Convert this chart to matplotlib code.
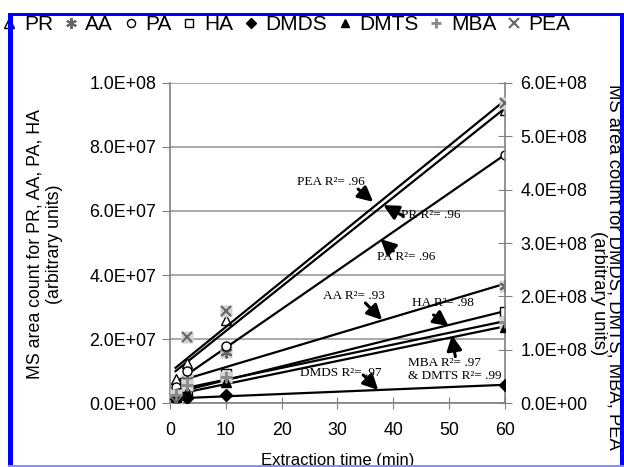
import matplotlib
matplotlib.use('Agg')
import matplotlib.pyplot as plt
import numpy as np
from matplotlib.ticker import FuncFormatter, MultipleLocator
from matplotlib.patches import Rectangle

plt.rcParams['font.family'] = ['Liberation Sans', 'DejaVu Sans']

# extraction times (min)
times = np.array([1, 3, 10, 60])

# left axis: MS area count for PR, AA, PA, HA
pr = np.array([7.5e6, 1.25e7, 2.6e7, 9.15e7])
aa = np.array([3.0e6, 7.3e6, 1.61e7, 3.66e7])
pa = np.array([5.0e6, 1.0e7, 1.8e7, 7.74e7])
ha = np.array([2.0e6, 4.0e6, 9.2e6, 2.85e7])

# right axis: MS area count for DMDS, DMTS, MBA, PEA
dmds = np.array([8.0e6, 9.7e6, 1.6e7, 3.46e7])
dmts = np.array([1.2e7, 2.2e7, 4.1e7, 1.435e8])
mba = np.array([1.5e7, 3.5e7, 5.0e7, 1.53e8])
pea = np.array([3.4e6, 1.24e8, 1.72e8, 5.61e8])

fig = plt.figure(figsize=(6.24, 4.67), dpi=100)
ax = fig.add_axes([0.2724, 0.136, 0.5369, 0.6873])
ax2 = ax.twinx()


def trend(a, y):
    # linear trendline over the data range, like the spreadsheet did
    c = np.polyfit(times, y, 1)
    xs = np.array([times[0], times[-1]])
    a.plot(xs, np.polyval(c, xs), color='black', lw=1.6, zorder=2)


for y in [pr, aa, pa, ha]:
    trend(ax, y)
for y in [dmds, dmts, mba, pea]:
    trend(ax2, y)

box = dict(ls='none', marker='s', ms=8, color='#d2d2d2', mec='none', zorder=3)
ax.plot(times, aa, **box)
ax2.plot(times, mba, **box)
ax2.plot(times, pea, **box)

h_pr, = ax.plot(times, pr, ls='none', marker='^', ms=7.5, mfc='white', mec='black', mew=1, zorder=4)
h_aa, = ax.plot(times, aa, ls='none', marker=(6, 2, 0), ms=8.5, color='#666666', mew=1.5, zorder=4)
h_pa, = ax.plot(times, pa, ls='none', marker='o', ms=6.5, mfc='white', mec='black', mew=1, zorder=4)
h_ha, = ax.plot(times, ha, ls='none', marker='s', ms=6.5, mfc='white', mec='black', mew=1, zorder=4)
h_dmds, = ax2.plot(times, dmds, ls='none', marker='D', ms=6, color='black', zorder=4)
h_dmts, = ax2.plot(times, dmts, ls='none', marker='^', ms=7, color='black', zorder=4)
h_mba, = ax2.plot(times, mba, ls='none', marker='+', ms=8.5, color='#888888', mew=2, zorder=4)
h_pea, = ax2.plot(times, pea, ls='none', marker='x', ms=7.5, color='#666666', mew=1.5, zorder=4)

ax.set_xlim(0, 60)
ax.set_ylim(0, 1e8)
ax2.set_ylim(0, 6e8)
ax.xaxis.set_major_locator(MultipleLocator(10))
ax.yaxis.set_major_locator(MultipleLocator(2e7))
ax2.yaxis.set_major_locator(MultipleLocator(1e8))
sci = FuncFormatter(lambda v, p: f'{v:.1E}')
ax.yaxis.set_major_formatter(sci)
ax2.yaxis.set_major_formatter(sci)

ax.set_axisbelow(True)
ax.yaxis.grid(True, color='#9a9a9a', lw=1.2)

for s in ['top', 'right']:
    ax.spines[s].set_visible(False)
for s in ['top', 'left', 'bottom']:
    ax2.spines[s].set_visible(False)
for sp in [ax.spines['left'], ax.spines['bottom'], ax2.spines['right']]:
    sp.set_color('#808080')
    sp.set_linewidth(1.2)

ax.tick_params(axis='y', direction='out', length=6, color='#808080', labelsize=12.8, pad=4)
ax.tick_params(axis='x', direction='inout', length=8, color='#808080', labelsize=12.8, pad=9)
ax2.tick_params(axis='y', direction='inout', length=10, color='#808080', labelsize=12.8, pad=6)

ax.set_xlabel('Extraction time (min)', fontsize=12)
ax.xaxis.set_label_coords(0.5, -0.155)
fig.text(45 / 624, 1 - 244 / 467, 'MS area count for PR, AA, PA, HA\n(arbitrary units)',
         rotation=90, ha='center', va='center', multialignment='center', fontsize=12.8)
fig.text(614 / 624, 1 - 267 / 467, 'MS area count for DMDS, DMTS, MBA, PEA',
         rotation=270, ha='center', va='center', fontsize=13.3)
fig.text(598 / 624, 1 - 293 / 467, '(arbitrary units)',
         rotation=270, ha='center', va='center', fontsize=13.3)

# R squared notes with arrows (left axis data coordinates)
serif = dict(family='Liberation Serif', fontsize=9.5, va='center', ha='left')
notes = [
    ('PEA R²= .96', (22.8, 6.9e7), (33.7, 6.68e7), (36.4, 6.28e7)),
    ('PR R²= .96', (41.3, 5.87e7), (41.8, 5.84e7), (38.2, 6.18e7)),
    ('PA R²= .96', (37.1, 4.56e7), (40.0, 4.75e7), (37.7, 5.12e7)),
    ('AA R²= .93', (27.4, 3.35e7), (35.0, 3.13e7), (38.0, 2.6e7)),
    ('HA R²= .98', (43.4, 3.13e7), (47.2, 2.76e7), (49.9, 2.41e7)),
    ('MBA R²= .97\n& DMTS R²= .99', (42.7, 1.07e7), (51.1, 1.46e7), (50.5, 2.13e7)),
    ('DMDS R²= .97', (23.3, 9.4e6), (34.6, 8.9e6), (37.3, 4.2e6)),
]
for label, pos, tail, head in notes:
    ax2.annotate('', xy=head, xytext=tail, xycoords=ax.transData, textcoords=ax.transData,
                 arrowprops=dict(arrowstyle='-|>,head_length=0.9,head_width=0.45', lw=2.2,
                                 color='black', shrinkA=0, shrinkB=0), zorder=6)
    ax2.text(pos[0], pos[1], label, transform=ax.transData, linespacing=1.1, zorder=5, **serif)

handles = [h_pr, h_aa, h_pa, h_ha, h_dmds, h_dmts, h_mba, h_pea]
labels = ['PR', 'AA', 'PA', 'HA', 'DMDS', 'DMTS', 'MBA', 'PEA']
fig.legend(handles, labels, loc='upper left', bbox_to_anchor=(4 / 624, 1 - 15 / 467), ncol=8,
           frameon=False, fontsize=15, handlelength=0.5, handletextpad=0.45, columnspacing=0.6,
           borderpad=0, borderaxespad=0, markerscale=0.9)

# blue frame around the figure, partly cut off
W, H = 624, 467
for x0, y0, w, h, c in [(8, 0, 5, H - 13, '#0000ff'), (8, H - 16, W - 8, 3, '#0000ff'),
                        (620, 0, 4, H - 13, '#0000ff'), (8, 0, W - 8, 2, '#8c8cff')]:
    fig.add_artist(Rectangle((x0 / W, y0 / H), w / W, h / H, transform=fig.transFigure,
                             color=c, lw=0, zorder=10))

fig.savefig('out.png', dpi=100)
